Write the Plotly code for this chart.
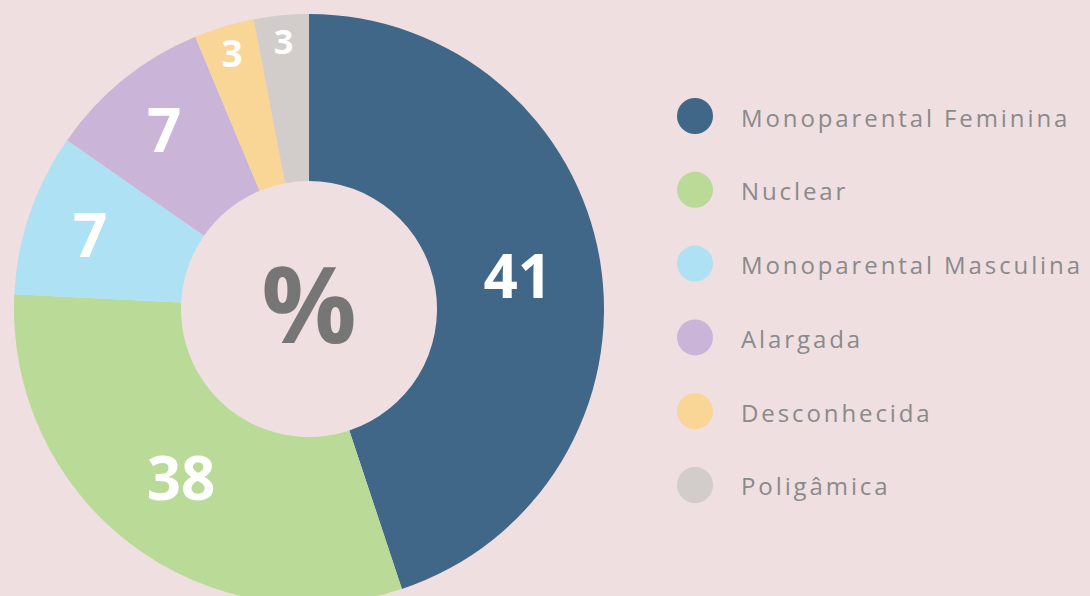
import plotly.graph_objects as go

# ---- data ----
categories = ["Monoparental Feminina", "Nuclear", "Monoparental Masculina",
              "Alargada", "Desconhecida", "Poligâmica"]
slice_sizes = [44.9, 30.9, 8.9, 9.0, 3.3, 3.0]      # angular sizes
label_values = ["41", "38", "7", "7", "3", "3"]      # numbers printed on the slices
colors = ["#406787", "#BADA98", "#AEE1F3", "#CAB5D8", "#F9D596", "#D2CCCB"]
label_sizes = [60, 60, 60, 60, 50, 50]

W, H = 1090, 620
BG = "#EFDFE0"

def px(x):
    return x / W

def py(y):
    return 1 - y / H

cx, cy, R = 309, 309, 295

fig = go.Figure()
fig.add_trace(go.Pie(
    labels=categories,
    values=slice_sizes,
    text=label_values,
    textinfo="text",
    textposition="inside",
    insidetextorientation="horizontal",
    textfont=dict(family="Open Sans", size=label_sizes, color="white", weight=700),
    marker=dict(colors=colors, line=dict(width=0)),
    hole=0.434,
    sort=False,
    direction="clockwise",
    rotation=0,
    showlegend=False,
    hoverinfo="skip",
    domain=dict(x=[px(cx - R), px(cx + R)], y=[py(cy + R), py(cy - R)]),
    title=dict(text="%", position="middle center",
               font=dict(family="Open Sans", size=106, color="#767676", weight=700)),
))

# custom legend with round markers
shapes = []
annotations = []
for i, (name, col) in enumerate(zip(categories, colors)):
    yc = 116 + i * 73.8
    shapes.append(dict(type="circle", xref="paper", yref="paper",
                       x0=px(695 - 18), x1=px(695 + 18),
                       y0=py(yc + 18), y1=py(yc - 18),
                       fillcolor=col, line=dict(width=0)))
    annotations.append(dict(xref="paper", yref="paper", x=px(739), y=py(yc + 1),
                            xanchor="left", yanchor="middle", align="left",
                            showarrow=False, text=name,
                            font=dict(family="Open Sans", size=24, color="#8A8A8A")))

fig.update_layout(
    width=W, height=H,
    margin=dict(l=0, r=0, t=0, b=0),
    paper_bgcolor=BG, plot_bgcolor=BG,
    shapes=shapes, annotations=annotations,
)

post = """
var st = document.createElement('style');
st.innerHTML = 'html,body{margin:0;padding:0;overflow:hidden;background:%s;} .annotation-text{letter-spacing:2.9px;}';
document.head.appendChild(st);
""" % BG

fig.write_html("out.html", post_script=post, config={"displayModeBar": False})
